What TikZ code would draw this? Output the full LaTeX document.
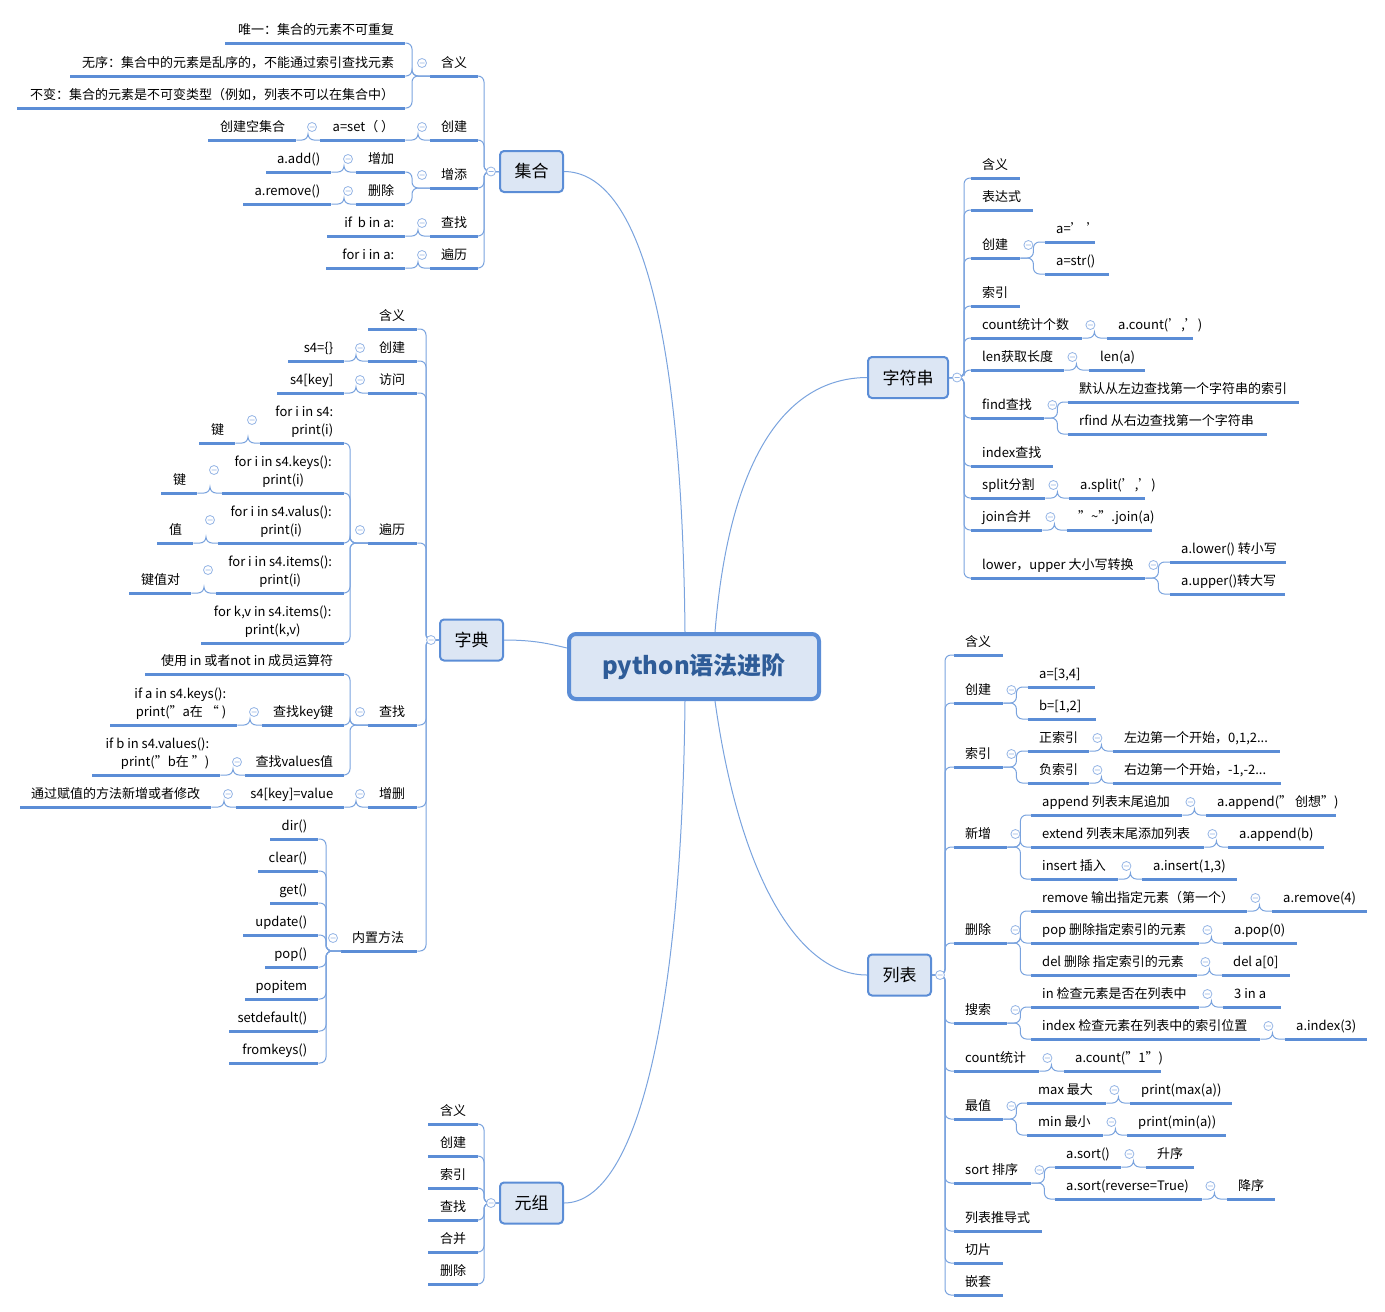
\documentclass[tikz,border=0pt]{standalone}
\usepackage{fontspec}
\setmainfont{Noto Sans CJK SC}
\usetikzlibrary{positioning}
\definecolor{ulblue}{HTML}{5B8DD6}
\definecolor{cnblue}{HTML}{7AA3DE}
\definecolor{boxfill}{HTML}{DCE6F4}
\definecolor{rootfg}{HTML}{2E5C98}
% leaf: name, x1, x2, y (underline), align, text
\newcommand\tleaf[6]{\node[leaf] (#1) at (#2,#4) {\makebox[\dimexpr#3pt-#2pt-22pt\relax][#5]{\begin{tabular}{@{}#5@{}}#6\end{tabular}}};}
% branches to the right / to the left
\newcommand\brR[4][-13]{\foreach \c in {#4}{\draw[conn] (#2) -- ++(#3,0) |- (\c.south west);}
  \draw[tog] (#2) ++(8,#1) circle (4.5pt) +(-2.5,0) -- +(2.5,0);}
\newcommand\brL[4][-13]{\foreach \c in {#4}{\draw[conn] (#2) -- ++(-#3,0) |- (\c.south east);}
  \draw[tog] (#2) ++(-8,#1) circle (4.5pt) +(-2.5,0) -- +(2.5,0);}
\begin{document}
\begin{tikzpicture}[x=1pt,y=-1pt]
  \tikzset{leaf/.style = {anchor=south west,inner xsep=11pt,inner ysep=3pt,font=\fontsize{13}{18}\selectfont,
    append after command={(\tikzlastnode.south west) edge[ul] (\tikzlastnode.south east)}}}
  \tikzset{ul/.style = {draw=ulblue,line width=3pt}}
  \tikzset{conn/.style = {draw=cnblue,line width=1pt,rounded corners=6pt}}
  \tikzset{tog/.style = {draw=cnblue!80,fill=white,line width=0.8pt}}
  \tikzset{topic/.style = {draw=ulblue,fill=boxfill,line width=2pt,rounded corners=4pt,minimum height=41,font=\fontsize{17}{20}\selectfont}}
  \useasboundingbox (0,0) rectangle (1385,1312);

  \node[draw=ulblue,fill=boxfill,line width=4pt,rounded corners=7pt,minimum width=250,minimum height=65,
    text=rootfg,font=\fontsize{24}{28}\selectfont\bfseries] (root) at (694,666.5) {python语法进阶};

  % 集合
  \node[topic,minimum width=63] (set) at (531.5,171.5) {集合};
  \tleaf{sA}{225}{405}{43}{r}{唯一：集合的元素不可重复}
  \tleaf{sB}{70}{405}{76}{r}{无序：集合中的元素是乱序的，不能通过索引查找元素}
  \tleaf{sC}{17}{405}{108}{r}{不变：集合的元素是不可变类型（例如，列表不可以在集合中）}
  \tleaf{sMean}{430}{478}{76}{l}{含义}
  \tleaf{sNew}{430}{478}{140}{l}{创建}
  \tleaf{sNewA}{320}{405}{140}{r}{a=set（ ）}
  \tleaf{sNewB}{208}{296}{140}{r}{创建空集合}
  \tleaf{sAdd}{430}{478}{188}{l}{增添}
  \tleaf{sAddA}{356}{405}{172}{r}{增加}
  \tleaf{sAddA1}{266}{331}{172}{r}{a.add()}
  \tleaf{sAddB}{356}{405}{204}{r}{删除}
  \tleaf{sAddB1}{243}{331}{204}{r}{a.remove()}
  \tleaf{sFind}{430}{478}{236}{l}{查找}
  \tleaf{sFindA}{327}{405}{236}{r}{if\ \ b in a:}
  \tleaf{sLoop}{430}{478}{268}{l}{遍历}
  \tleaf{sLoopA}{326}{405}{268}{r}{for i in a:}
  \brL[0]{set.west}{15}{sMean,sNew,sAdd,sFind,sLoop}
  \brL{sMean.south west}{18}{sA,sB,sC}
  \brL{sNew.south west}{12}{sNewA}
  \brL{sNewA.south west}{12}{sNewB}
  \brL{sAdd.south west}{18}{sAddA,sAddB}
  \brL{sAddA.south west}{12}{sAddA1}
  \brL{sAddB.south west}{12}{sAddB1}
  \brL{sFind.south west}{12}{sFindA}
  \brL{sLoop.south west}{12}{sLoopA}

  % 字典
  \node[topic,minimum width=63] (dict) at (471.5,640) {字典};
  \tleaf{dMean}{368}{417}{329}{l}{含义}
  \tleaf{dNew}{368}{417}{361}{l}{创建}
  \tleaf{dNewA}{288}{344}{361}{r}{s4=\{\}}
  \tleaf{dGet}{368}{417}{393}{l}{访问}
  \tleaf{dGetA}{277}{344}{393}{r}{s4[key]}
  \tleaf{dLoop}{368}{417}{543}{l}{遍历}
  \tleaf{dLoopA}{260}{344}{443}{r}{for i in s4:\\print(i)}
  \tleaf{dLoopA1}{199}{235}{443}{r}{键}
  \tleaf{dLoopB}{222}{344}{493}{c}{for i in s4.keys():\\print(i)}
  \tleaf{dLoopB1}{161}{197}{493}{r}{键}
  \tleaf{dLoopC}{218}{344}{543}{c}{for i in s4.valus():\\print(i)}
  \tleaf{dLoopC1}{157}{193}{543}{r}{值}
  \tleaf{dLoopD}{216}{344}{593}{c}{for i in s4.items():\\print(i)}
  \tleaf{dLoopD1}{129}{191}{593}{r}{键值对}
  \tleaf{dLoopE}{201}{344}{643}{c}{for k,v in s4.items():\\print(k,v)}
  \tleaf{dFind}{368}{417}{725}{l}{查找}
  \tleaf{dFindA}{145}{344}{674}{r}{使用 in 或者not in 成员运算符}
  \tleaf{dFindB}{262}{344}{725}{r}{查找key键}
  \tleaf{dFindB1}{110}{237}{725}{r}{if a in s4.keys():\\print("a在 “ )}
  \tleaf{dFindC}{245}{344}{775}{r}{查找values值}
  \tleaf{dFindC1}{92}{220}{775}{r}{if b in s4.values():\\print("b在 ”)}
  \tleaf{dMod}{368}{417}{807}{l}{增删}
  \tleaf{dModA}{236}{344}{807}{r}{s4[key]=value}
  \tleaf{dModA1}{20}{211}{807}{r}{通过赋值的方法新增或者修改}
  \tleaf{dFunc}{341}{417}{951}{l}{内置方法}
  \tleaf{dF1}{270}{318}{839}{r}{dir()}
  \tleaf{dF2}{258}{318}{871}{r}{clear()}
  \tleaf{dF3}{270}{318}{903}{r}{get()}
  \tleaf{dF4}{243}{318}{935}{r}{update()}
  \tleaf{dF5}{265}{318}{967}{r}{pop()}
  \tleaf{dF6}{245}{318}{999}{r}{popitem}
  \tleaf{dF7}{229}{318}{1031}{r}{setdefault()}
  \tleaf{dF8}{229}{318}{1063}{r}{fromkeys()}
  \brL[0]{dict.west}{13}{dMean,dNew,dGet,dLoop,dFind,dMod,dFunc}
  \brL{dNew.south west}{12}{dNewA}
  \brL{dGet.south west}{12}{dGetA}
  \brL{dLoop.south west}{18}{dLoopA,dLoopB,dLoopC,dLoopD,dLoopE}
  \brL[-23]{dLoopA.south west}{12}{dLoopA1}
  \brL[-23]{dLoopB.south west}{12}{dLoopB1}
  \brL[-23]{dLoopC.south west}{12}{dLoopC1}
  \brL[-23]{dLoopD.south west}{12}{dLoopD1}
  \brL{dFind.south west}{18}{dFindA,dFindB,dFindC}
  \brL{dFindB.south west}{12}{dFindB1}
  \brL{dFindC.south west}{12}{dFindC1}
  \brL{dMod.south west}{12}{dModA}
  \brL{dModA.south west}{12}{dModA1}
  \brL{dFunc.south west}{15}{dF1,dF2,dF3,dF4,dF5,dF6,dF7,dF8}

  % 元组
  \node[topic,minimum width=63] (tuple) at (531.5,1203) {元组};
  \tleaf{tA}{428}{478}{1124}{c}{含义}
  \tleaf{tB}{428}{478}{1156}{c}{创建}
  \tleaf{tC}{428}{478}{1188}{c}{索引}
  \tleaf{tD}{428}{478}{1220}{c}{查找}
  \tleaf{tE}{428}{478}{1252}{c}{合并}
  \tleaf{tF}{428}{478}{1284}{c}{删除}
  \brL[0]{tuple.west}{15}{tA,tB,tC,tD,tE,tF}

  % 字符串
  \node[topic,minimum width=80] (str) at (908,377.5) {字符串};
  \tleaf{strMean}{971}{1020}{178}{l}{含义}
  \tleaf{strExpr}{971}{1033}{210}{l}{表达式}
  \tleaf{strNew}{971}{1020}{258}{l}{创建}
  \tleaf{strNewA}{1045}{1095}{242}{l}{a=' '}
  \tleaf{strNewB}{1045}{1109}{274}{l}{a=str()}
  \tleaf{strIdx}{971}{1020}{306}{l}{索引}
  \tleaf{strCnt}{971}{1082}{338}{l}{count统计个数}
  \tleaf{strCntA}{1107}{1193}{338}{l}{a.count(',')}
  \tleaf{strLen}{971}{1064}{370}{l}{len获取长度}
  \tleaf{strLenA}{1089}{1145}{370}{l}{len(a)}
  \tleaf{strFind}{971}{1044}{418}{l}{find查找}
  \tleaf{strFindA}{1068}{1299}{402}{l}{默认从左边查找第一个字符串的索引}
  \tleaf{strFindB}{1068}{1267}{434}{l}{rfind 从右边查找第一个字符串}
  \tleaf{strIndex}{971}{1053}{466}{l}{index查找}
  \tleaf{strSplit}{971}{1045}{498}{l}{split分割}
  \tleaf{strSplitA}{1069}{1145}{498}{l}{a.split(',')}
  \tleaf{strJoin}{971}{1042}{530}{l}{join合并}
  \tleaf{strJoinA}{1067}{1152}{530}{l}{"\textasciitilde".join(a)}
  \tleaf{strCase}{971}{1145}{578}{l}{lower，upper 大小写转换}
  \tleaf{strCaseA}{1170}{1286}{562}{l}{a.lower() 转小写}
  \tleaf{strCaseB}{1170}{1285}{594}{l}{a.upper()转大写}
  \brR[0]{str.east}{15}{strMean,strExpr,strNew,strIdx,strCnt,strLen,strFind,strIndex,strSplit,strJoin,strCase}
  \brR{strNew.south east}{13}{strNewA,strNewB}
  \brR{strCnt.south east}{12}{strCntA}
  \brR{strLen.south east}{12}{strLenA}
  \brR{strFind.south east}{13}{strFindA,strFindB}
  \brR{strSplit.south east}{12}{strSplitA}
  \brR{strJoin.south east}{12}{strJoinA}
  \brR{strCase.south east}{13}{strCaseA,strCaseB}

  % 列表
  \node[topic,minimum width=63] (list) at (899.5,975) {列表};
  \tleaf{lMean}{954}{1003}{655}{l}{含义}
  \tleaf{lNew}{954}{1003}{703}{l}{创建}
  \tleaf{lNewA}{1028}{1095}{687}{l}{a=[3,4]}
  \tleaf{lNewB}{1028}{1096}{719}{l}{b=[1,2]}
  \tleaf{lIdx}{954}{1003}{767}{l}{索引}
  \tleaf{lIdxA}{1028}{1089}{751}{l}{正索引}
  \tleaf{lIdxA1}{1113}{1280}{751}{l}{左边第一个开始，0,1,2...}
  \tleaf{lIdxB}{1028}{1089}{783}{l}{负索引}
  \tleaf{lIdxB1}{1113}{1281}{783}{l}{右边第一个开始，-1,-2...}
  \tleaf{lAdd}{954}{1007}{847}{l}{新增}
  \tleaf{lAddA}{1031}{1182}{815}{l}{append 列表末尾追加}
  \tleaf{lAddA1}{1206}{1336}{815}{l}{a.append(" 创想")}
  \tleaf{lAddB}{1031}{1204}{847}{l}{extend 列表末尾添加列表}
  \tleaf{lAddB1}{1228}{1324}{847}{l}{a.append(b)}
  \tleaf{lAddC}{1031}{1118}{879}{l}{insert 插入}
  \tleaf{lAddC1}{1142}{1237}{879}{l}{a.insert(1,3)}
  \tleaf{lDel}{954}{1007}{943}{l}{删除}
  \tleaf{lDelA}{1031}{1247}{911}{l}{remove 输出指定元素（第一个）}
  \tleaf{lDelA1}{1272}{1367}{911}{l}{a.remove(4)}
  \tleaf{lDelB}{1031}{1199}{943}{l}{pop 删除指定索引的元素}
  \tleaf{lDelB1}{1223}{1297}{943}{l}{a.pop(0)}
  \tleaf{lDelC}{1031}{1197}{975}{l}{del 删除 指定索引的元素}
  \tleaf{lDelC1}{1222}{1290}{975}{l}{del a[0]}
  \tleaf{lSrch}{954}{1007}{1023}{l}{搜索}
  \tleaf{lSrchA}{1031}{1199}{1007}{l}{in 检查元素是否在列表中}
  \tleaf{lSrchA1}{1223}{1281}{1007}{l}{3 in a}
  \tleaf{lSrchB}{1031}{1260}{1039}{l}{index 检查元素在列表中的索引位置}
  \tleaf{lSrchB1}{1285}{1367}{1039}{l}{a.index(3)}
  \tleaf{lCnt}{954}{1039}{1071}{l}{count统计}
  \tleaf{lCntA}{1064}{1161}{1071}{l}{a.count("1")}
  \tleaf{lMax}{954}{1003}{1119}{l}{最值}
  \tleaf{lMaxA}{1027}{1106}{1103}{l}{max 最大}
  \tleaf{lMaxA1}{1130}{1232}{1103}{l}{print(max(a))}
  \tleaf{lMaxB}{1027}{1103}{1135}{l}{min 最小}
  \tleaf{lMaxB1}{1127}{1226}{1135}{l}{print(min(a))}
  \tleaf{lSort}{954}{1031}{1183}{l}{sort 排序}
  \tleaf{lSortA}{1055}{1121}{1167}{l}{a.sort()}
  \tleaf{lSortA1}{1146}{1194}{1167}{l}{升序}
  \tleaf{lSortB}{1055}{1202}{1199}{l}{a.sort(reverse=True)}
  \tleaf{lSortB1}{1227}{1275}{1199}{l}{降序}
  \tleaf{lComp}{954}{1042}{1231}{l}{列表推导式}
  \tleaf{lSlice}{954}{1003}{1263}{l}{切片}
  \tleaf{lNest}{954}{1003}{1295}{l}{嵌套}
  \brR[0]{list.east}{13}{lMean,lNew,lIdx,lAdd,lDel,lSrch,lCnt,lMax,lSort,lComp,lSlice,lNest}
  \brR{lNew.south east}{13}{lNewA,lNewB}
  \brR{lIdx.south east}{13}{lIdxA,lIdxB}
  \brR{lIdxA.south east}{12}{lIdxA1}
  \brR{lIdxB.south east}{12}{lIdxB1}
  \brR{lAdd.south east}{13}{lAddA,lAddB,lAddC}
  \brR{lAddA.south east}{12}{lAddA1}
  \brR{lAddB.south east}{12}{lAddB1}
  \brR{lAddC.south east}{12}{lAddC1}
  \brR{lDel.south east}{13}{lDelA,lDelB,lDelC}
  \brR{lDelA.south east}{12}{lDelA1}
  \brR{lDelB.south east}{12}{lDelB1}
  \brR{lDelC.south east}{12}{lDelC1}
  \brR{lSrch.south east}{13}{lSrchA,lSrchB}
  \brR{lSrchA.south east}{12}{lSrchA1}
  \brR{lSrchB.south east}{12}{lSrchB1}
  \brR{lCnt.south east}{12}{lCntA}
  \brR{lMax.south east}{13}{lMaxA,lMaxB}
  \brR{lMaxA.south east}{12}{lMaxA1}
  \brR{lMaxB.south east}{12}{lMaxB1}
  \brR{lSort.south east}{13}{lSortA,lSortB}
  \brR{lSortA.south east}{12}{lSortA1}
  \brR{lSortB.south east}{12}{lSortB1}

  % main curves
  \draw[conn] ([xshift=-9]root.north) .. controls (682,330) and (640,172) .. (set.east);
  \draw[conn] ([xshift=21]root.north) .. controls (730,450) and (790,378) .. (str.west);
  \draw[conn] (dict.east) .. controls (535,640) and (550,644) .. (root.west |- 0,648);
  \draw[conn] ([xshift=-9]root.south) .. controls (682,1000) and (640,1203) .. (tuple.east);
  \draw[conn] ([xshift=21]root.south) .. controls (740,880) and (800,975) .. (list.west);
\end{tikzpicture}
\end{document}
